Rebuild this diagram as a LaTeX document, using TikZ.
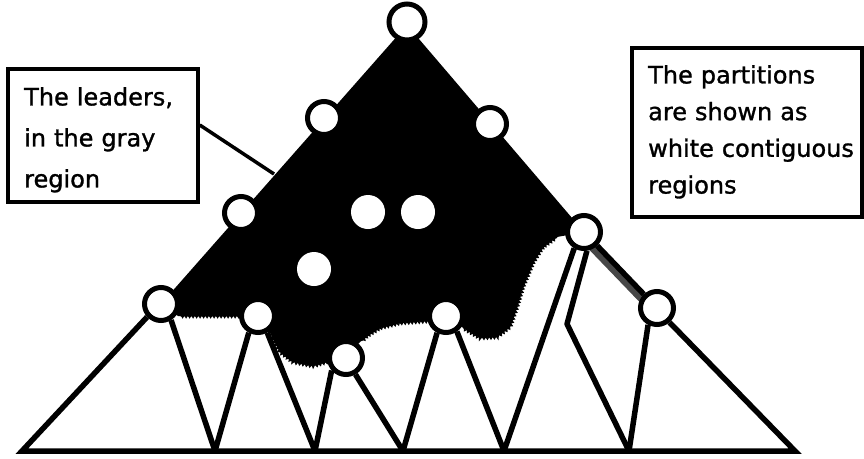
\documentclass[tikz,border=0pt]{standalone}
\usepackage{fontspec}
\setmainfont{DejaVu Sans}[BoldFont=DejaVu Sans,BoldFeatures={FakeBold=1.2}]
\usetikzlibrary{decorations.pathmorphing}
\pgfdeclarelayer{bg}
\pgfsetlayers{bg,main}
\begin{document}
\begin{tikzpicture}[x=1pt,y=-1pt,
  vert/.style={circle,draw=black,fill=white,line width=5pt,minimum size=33pt,inner sep=0pt},
  rootv/.style={vert,minimum size=36pt},
  leader/.style={circle,fill=white,minimum size=34pt,inner sep=0pt},
  edge/.style={line width=5.5pt,line cap=butt},
  box/.style={draw=black,line width=3.5pt,inner sep=0pt},
  boxtext/.style={align=left,inner sep=0pt,anchor=north west},
  region/.style={fill=black},
  fringe/.style={fill=black!72},
  teeth/.style={draw=black,line width=1.4pt,decorate,decoration={zigzag,segment length=3.5pt,amplitude=1.4pt}},
  callout/.style={line width=3.5pt}
]
\useasboundingbox (0,0) rectangle (864,458);

% vertices of the tree
\node[rootv] (r)  at (407,22) {};
\node[vert]  (l1) at (324,118) {};
\node[vert]  (r1) at (490,124) {};
\node[vert]  (l2) at (241,213) {};
\node[vert]  (p1) at (161,304) {};
\node[vert]  (p2) at (258,316) {};
\node[vert]  (p3) at (346,358) {};
\node[vert]  (p4) at (446,316) {};
\node[vert]  (p5) at (584,232) {};
\node[vert]  (p6) at (657,308) {};
\node[leader] (a1) at (368,212) {};
\node[leader] (a2) at (418,212) {};
\node[leader] (a3) at (314,269) {};

% points on the base line
\coordinate (b0) at (22,451);
\coordinate (b1) at (215,451);
\coordinate (b2) at (315,451);
\coordinate (b3) at (403,451);
\coordinate (b4) at (504,451);
\coordinate (b5) at (629,451);
\coordinate (b6) at (795,451);
\coordinate (k)  at (567,324);

\begin{pgfonlayer}{bg}
  % the leaders' region
  \fill[region] (407,25) -- (161,304) -- (178,316) -- (243,316) -- (270,333)
    -- (280,352) -- (293,362) -- (313,366) -- (333,360) -- (346,358)
    -- (360,342) -- (367,336) -- (380,328) -- (400,323) -- (427,321)
    -- (446,316) -- (462,327) -- (480,338) -- (497,337) -- (510,327)
    -- (517,307) -- (523,287) -- (533,263) -- (543,247) -- (557,237)
    -- (584,232) -- cycle;
  \draw[teeth] (180,316) -- (241,316);
  \draw[teeth] (272,336) -- (280,352) -- (293,362) -- (313,366) -- (330,361);
  \draw[teeth] (362,341) -- (367,336) -- (380,328) -- (400,323) -- (428,321);
  \draw[teeth] (463,328) -- (480,338) -- (497,337) -- (510,327) -- (517,307)
    -- (523,287) -- (533,263) -- (543,247) -- (557,237);
  \fill[fringe] (595,243) -- (646,296) -- (639.5,302) -- (588.5,249) -- cycle;

  % partitions
  \draw[edge,line join=miter] (p1.-137) -- (b0) -- (b6) -- (p6.-49);
  \draw[edge] (p1.-58) -- (b1);
  \draw[edge] (p2.-119) -- (b1);
  \draw[edge] (p2.-61) -- (b2);
  \draw[edge] (p3.-139) -- (b2);
  \draw[edge] (p3.-60) -- (b3);
  \draw[edge] (p4.-118) -- (b3);
  \draw[edge] (p4.-55) -- (b4);
  \draw[edge] (p5.-121) -- (b4);
  \draw[edge,line join=round] (p5.-81) -- (k) -- (b5);
  \draw[edge] (p6.-118) -- (b5);
  \draw[edge] (p5) -- (p6);
\end{pgfonlayer}

% callouts
\node[box,minimum width=190pt,minimum height=133pt] (lbox) at (103,135.5) {};
\node[boxtext,text width=172pt,font=\fontsize{24pt}{41pt}\selectfont\bfseries] (ltext) at (24,87)
  {The leaders,\\in the gray\\region};
\node[box,minimum width=230pt,minimum height=169pt] (rbox) at (747,132.5) {};
\node[boxtext,text width=214pt,font=\fontsize{24pt}{36.7pt}\selectfont\bfseries] (rtext) at (648,65)
  {The partitions\\are shown as\\white contiguous\\regions};

\coordinate (lead) at (274,174);
\draw[callout] ([yshift=10.5pt]lbox.east) -- (lead);
\end{tikzpicture}
\end{document}
